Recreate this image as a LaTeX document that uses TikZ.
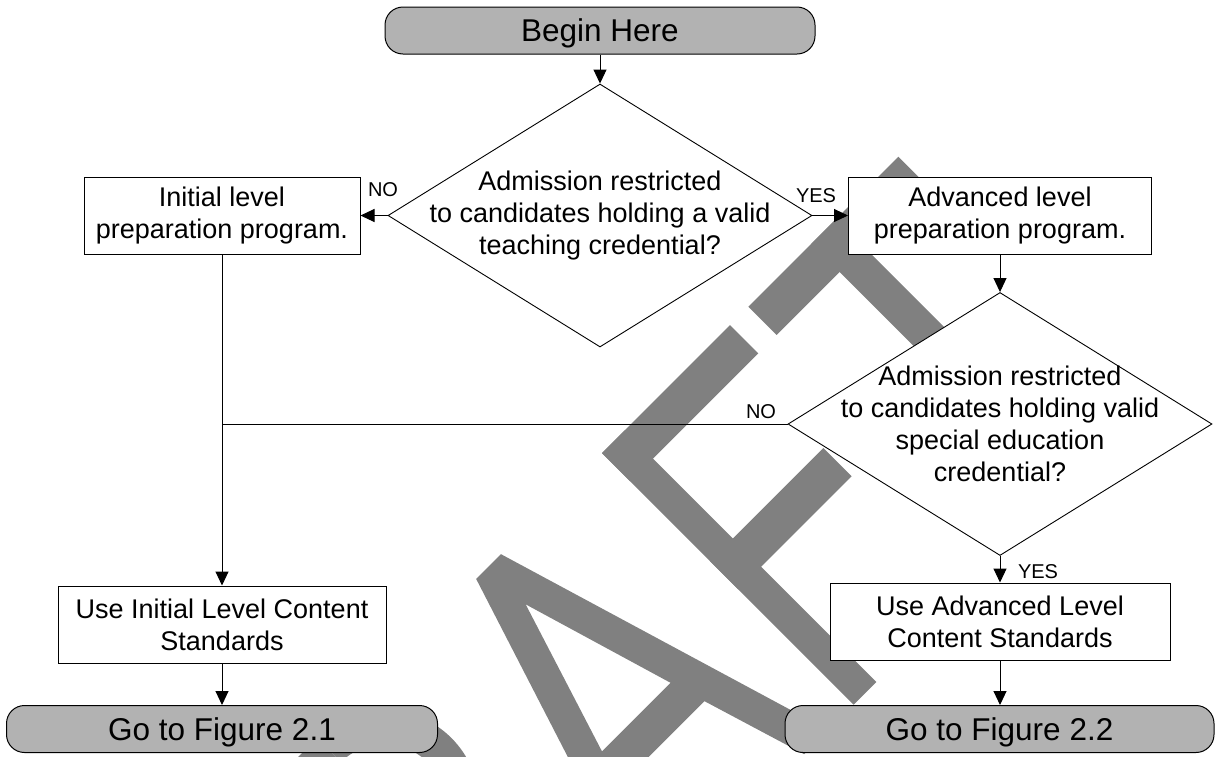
\documentclass[tikz,border=0pt]{standalone}
\usepackage{fontspec}
\setmainfont{Liberation Sans}
\usetikzlibrary{shapes.geometric,arrows.meta}
\definecolor{termgray}{gray}{0.70}
\definecolor{wmgray}{gray}{0.50}
\begin{document}
\begin{tikzpicture}[x=1pt,y=-1pt,
  term/.style={draw=black, line width=1pt, fill=termgray, rounded corners=18pt,
    minimum height=47pt, inner sep=0pt, text height=22.5pt, text depth=0pt,
    font=\fontsize{31.5}{36}\selectfont},
  procbox/.style={draw=black, line width=1pt, fill=white, inner sep=0pt,
    align=center, minimum height=77pt, font=\fontsize{27}{32}\selectfont},
  dia/.style={draw=black, line width=0.9pt, fill=white, diamond, inner sep=0pt,
    minimum width=424pt, minimum height=263pt},
  dtext/.style={align=center, inner sep=0pt, font=\fontsize{27}{32}\selectfont},
  lbl/.style={inner sep=0pt, font=\fontsize{20}{24}\selectfont},
  conn/.style={draw=black, line width=1pt, -{Triangle[length=14pt,width=13pt]}},
  plain/.style={draw=black, line width=1pt},
  wm/.style={fill=wmgray}]
\useasboundingbox (0,0) rectangle (1215,756);

% watermark
\begin{scope}
\clip (0,0) rectangle (1215,756);
\begin{scope}[shift={(602,453)}, rotate=45]
  % R
  \fill[wm] (-512,0) rectangle (-480,356);
  \fill[wm] (-512,0) rectangle (-403,34);
  \fill[wm] (-512,156) rectangle (-403,190);
  \begin{scope}
    \clip (-403,-20) rectangle (-250,210);
    \fill[wm, even odd rule] (-403,95) circle[radius=95] (-403,95) circle[radius=61];
  \end{scope}
  \fill[wm] (-440,170) -- (-405,170) -- (-290,356) -- (-325,356) -- cycle;
  % A
  \fill[wm, even odd rule] (-178,0) -- (-143,0) -- (-36,356) -- (-70,356) -- (-103,248)
     -- (-223,248) -- (-258,356) -- (-292,356) -- cycle
     (-161,53) -- (-114,211) -- (-211,211) -- cycle;
  % F
  \fill[wm] (0,0) rectangle (32,356);
  \fill[wm] (0,0) rectangle (181,40);
  \fill[wm] (0,153) rectangle (160,193);
  % T
  \fill[wm] (207,0) rectangle (419,40);
  \fill[wm] (296,0) rectangle (331,356);
\end{scope}
\end{scope}

% nodes
\node[term, minimum width=430pt] (begin) at (600,30.5) {Begin Here};
\node[dia] (d1) at (600,215.5) {};
\node[dtext] (d1t) at (d1.center) {Admission restricted\\to candidates holding a valid\\teaching credential?};
\node[procbox, minimum width=276pt] (init) at (222,215.5) {Initial level\\preparation program.};
\node[procbox, minimum width=303pt] (adv) at (1000,215.5) {Advanced level\\preparation program.};
\node[dia] (d2) at (1000,424) {};
\node[dtext] (d2t) at (d2.center) {Admission restricted\\to candidates holding valid\\special education\\credential?};
\node[procbox, minimum width=328pt] (useI) at (222,624.5) {Use Initial Level Content\\Standards};
\node[procbox, minimum width=340pt] (useA) at (1000,621.5) {Use Advanced Level\\Content Standards};
\node[term, minimum width=431pt] (go1) at (222,729) {Go to Figure 2.1};
\node[term, minimum width=429pt] (go2) at (999.5,729) {Go to Figure 2.2};

% connectors
\draw[conn] (begin) -- (d1);
\draw[conn] (d1.west) -- (init.east);
\draw[conn] (d1.east) -- (adv.west);
\draw[conn] (adv.south) -- (d2.north);
\coordinate (join) at (init.south |- d2.west);
\draw[plain] (d2.west) -- (join);
\draw[conn] (init.south) -- (useI.north);
\draw[conn] (d2.south) -- (useA.north);
\draw[conn] (useI.south) -- (go1.north);
\draw[conn] (useA.south) -- (useA.south |- go2.north);

% labels
\node[lbl] (l1) at (383,190) {NO};
\node[lbl] (l2) at (816,196) {YES};
\node[lbl] (l3) at (761,412) {NO};
\node[lbl] (l4) at (1038,572) {YES};
\end{tikzpicture}
\end{document}
